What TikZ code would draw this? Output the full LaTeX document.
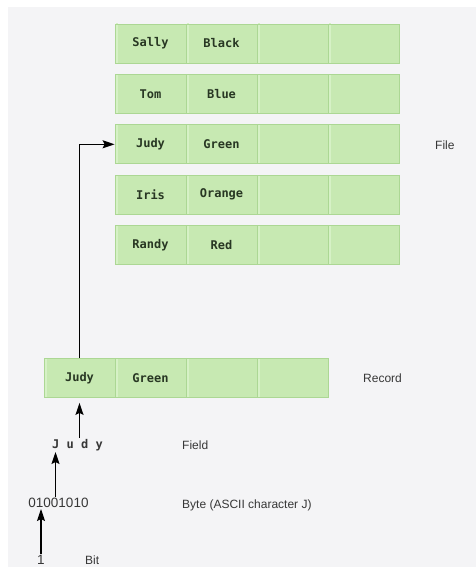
\documentclass[tikz,border=0pt]{standalone}
\usepackage{fontspec}
\setsansfont{Liberation Sans}
\setmonofont{DejaVu Sans Mono}
\usetikzlibrary{arrows.meta}
\definecolor{cellgreen}{RGB}{199,233,178}
\definecolor{celledge}{RGB}{172,215,148}
\definecolor{cellhigh}{RGB}{214,241,198}
\definecolor{bggray}{RGB}{244,244,246}
\definecolor{txtgray}{RGB}{55,55,55}
\definecolor{celltext}{RGB}{40,55,35}
\tikzset{
  cell/.style={draw=celledge, fill=cellgreen, line width=0.8pt, minimum width=71pt, minimum height=39pt, inner sep=0pt,
    font=\ttfamily\bfseries\fontsize{12}{14}\selectfont, text=celltext,
    path picture={\draw[cellhigh, line width=1.2pt]
      ([shift={(2pt,-3pt)}]path picture bounding box.south west) |- ([shift={(-2pt,2pt)}]path picture bounding box.north east);}},
  lbl/.style={font=\sffamily\fontsize{12}{14}\selectfont, text=txtgray, anchor=west, inner sep=0pt},
  conn/.style={line width=1.3pt, ->}
}
\begin{document}
\begin{tikzpicture}[x=1pt, y=-1pt, >={Stealth[length=12pt,width=8pt,inset=2pt]}]
\useasboundingbox (0,0) rectangle (476,567);
\fill[bggray] (8,7) rectangle (476,567);
% the file: five records
\foreach \nm/\col [count=\i] in {Sally/Black,Tom/Blue,Judy/Green,Iris/Orange,Randy/Red}{
  \pgfmathsetmacro\yy{43.5+50.4*(\i-1)}
  \node[cell] (f\i-1) at (150.5,\yy) {\nm};
  \node[cell] (f\i-2) at (221.5,\yy) {\col};
  \node[cell] (f\i-3) at (292.5,\yy) {};
  \node[cell] (f\i-4) at (363.5,\yy) {};
}
\node[lbl] (file) at (435,145) {File};
% one record
\node[cell] (rec-1) at (79.5,378) {Judy};
\node[cell] (rec-2) at (150.5,378) {Green};
\node[cell] (rec-3) at (221.5,378) {};
\node[cell] (rec-4) at (292.5,378) {};
\node[lbl] (record) at (363,378) {Record};
% field, byte, bit
\node[font=\ttfamily\bfseries\fontsize{12}{14}\selectfont, text=txtgray, inner sep=1pt] (field) at (77.5,445) {J u d y};
\node[lbl] (fieldlbl) at (182,445) {Field};
\node[font=\sffamily\fontsize{13.5}{15}\selectfont, text=txtgray, inner sep=1pt] (byte) at (58.5,503) {01001010};
\node[lbl] (bytelbl) at (182,505) {Byte (ASCII character J)};
\node[font=\sffamily\fontsize{13.5}{15}\selectfont, text=txtgray, inner sep=1pt] (bit) at (41,560) {1};
\node[lbl] (bitlbl) at (85,560) {Bit};
% connectors
\draw[conn] (rec-1.north) |- (f3-1.west);
\draw[conn, shorten >=5pt] (rec-1.south |- field.north) -- (rec-1.south);
\draw[conn] ([xshift=-3pt]byte.north) -- ([xshift=-3pt]byte.north |- field.south);
\draw[conn] (bit.north) -- (bit.north |- byte.south);
\end{tikzpicture}
\end{document}
